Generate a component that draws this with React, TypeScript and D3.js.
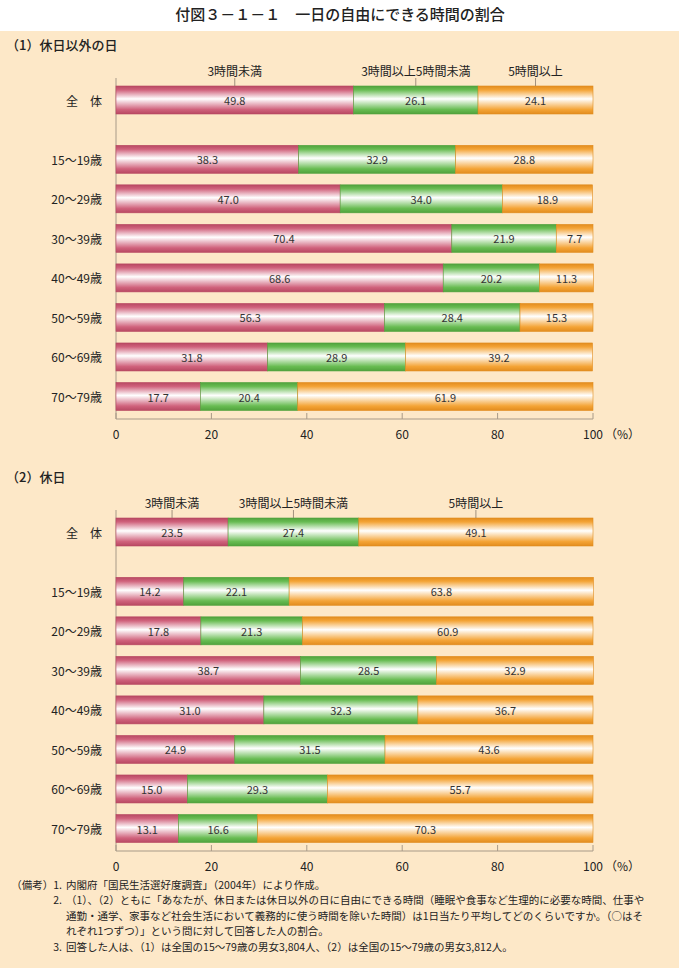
import React, { useEffect, useRef } from 'react'
import * as d3 from 'd3'

const W = 681
const H = 973

const categories = ['全　体', '15～19歳', '20～29歳', '30～39歳', '40～49歳', '50～59歳', '60～69歳', '70～79歳']
const seriesNames = ['3時間未満', '3時間以上5時間未満', '5時間以上']

// (1) 休日以外の日
const weekdayLess3 = [49.8, 38.3, 47.0, 70.4, 68.6, 56.3, 31.8, 17.7]
const weekday3to5 = [26.1, 32.9, 34.0, 21.9, 20.2, 28.4, 28.9, 20.4]
const weekdayOver5 = [24.1, 28.8, 18.9, 7.7, 11.3, 15.3, 39.2, 61.9]

// (2) 休日
const holidayLess3 = [23.5, 14.2, 17.8, 38.7, 31.0, 24.9, 15.0, 13.1]
const holiday3to5 = [27.4, 22.1, 21.3, 28.5, 32.3, 31.5, 29.3, 16.6]
const holidayOver5 = [49.1, 63.8, 60.9, 32.9, 36.7, 43.6, 55.7, 70.3]

const xTicks = [0, 20, 40, 60, 80, 100]

const notes = [
  { label: '（備考）1.', text: '内閣府「国民生活選好度調査」（2004年）により作成。' },
  { label: '2.', text: '（1）、（2）ともに「あなたが、休日または休日以外の日に自由にできる時間（睡眠や食事など生理的に必要な時間、仕事や' },
  { label: '', text: '通勤・通学、家事など社会生活において義務的に使う時間を除いた時間）は1日当たり平均してどのくらいですか。（○はそ' },
  { label: '', text: 'れぞれ1つずつ）」という問に対して回答した人の割合。' },
  { label: '3.', text: '回答した人は、（1）は全国の15～79歳の男女3,804人、（2）は全国の15～79歳の男女3,812人。' },
]

const colors = [
  { id: 'gPink', base: '#d0627c', dark: '#b84862' },
  { id: 'gGreen', base: '#68bc52', dark: '#50a23c' },
  { id: 'gOrange', base: '#f4a436', dark: '#e28c1e' },
]

const FONT = '"Noto Sans CJK JP", "Noto Sans", sans-serif'

const App: React.FC = () => {
  const svgRef = useRef<SVGSVGElement>(null)

  useEffect(() => {
    document.body.style.margin = '0'
    if (!svgRef.current) return
    const svg = d3.select(svgRef.current)
    svg.selectAll('*').remove()

    const defs = svg.append('defs')
    colors.forEach(c => {
      const lg = defs.append('linearGradient')
        .attr('id', c.id)
        .attr('x1', 0).attr('y1', 0).attr('x2', 0).attr('y2', 1)
      lg.append('stop').attr('offset', '0%').attr('stop-color', c.dark)
      lg.append('stop').attr('offset', '14%').attr('stop-color', c.base)
      lg.append('stop').attr('offset', '46%').attr('stop-color', '#ffffff')
      lg.append('stop').attr('offset', '84%').attr('stop-color', c.base)
      lg.append('stop').attr('offset', '100%').attr('stop-color', c.dark)
    })

    svg.append('rect')
      .attr('x', 0).attr('y', 31).attr('width', 679).attr('height', 937)
      .attr('fill', '#fde8c8')

    svg.append('text')
      .attr('x', 340).attr('y', 13)
      .attr('text-anchor', 'middle').attr('dominant-baseline', 'central')
      .style('font-family', FONT).style('font-size', '15px').style('font-weight', 500)
      .attr('fill', '#222')
      .text('付図３－１－１　一日の自由にできる時間の割合')

    const x = d3.scaleLinear().domain([0, 100]).range([116, 593])

    const drawPanel = (
      title: string,
      offset: number,
      data: number[][]
    ) => {
      const g = svg.append('g').attr('transform', `translate(0,${offset})`)
      // slot index: gap of 1.5 after 全体
      const slot = categories.map((_, i) => (i === 0 ? 0 : i + 0.5))
      const y = d3.scaleLinear().domain([0, 7.5]).range([100, 396.5])
      const barH = 28

      g.append('text')
        .attr('x', 6).attr('y', 44)
        .attr('dominant-baseline', 'central')
        .style('font-family', FONT).style('font-size', '13px').style('font-weight', 500)
        .attr('fill', '#222')
        .text(title)

      // axis
      const axisY = 419
      g.append('line')
        .attr('x1', x(0)).attr('x2', x(100)).attr('y1', axisY).attr('y2', axisY)
        .attr('stroke', '#a89a88').attr('stroke-width', 1)
      g.append('line')
        .attr('x1', x(0)).attr('x2', x(0)).attr('y1', 78).attr('y2', axisY)
        .attr('stroke', '#a89a88').attr('stroke-width', 1)
      xTicks.forEach(t => {
        g.append('line')
          .attr('x1', x(t)).attr('x2', x(t)).attr('y1', axisY - 6).attr('y2', axisY)
          .attr('stroke', '#a89a88').attr('stroke-width', 1)
        g.append('text')
          .attr('x', x(t)).attr('y', 433)
          .attr('text-anchor', 'middle').attr('dominant-baseline', 'central')
          .style('font-family', FONT).style('font-size', '12px')
          .attr('fill', '#222')
          .text(String(t))
      })
      g.append('text')
        .attr('x', x(100) + 12).attr('y', 433)
        .attr('dominant-baseline', 'central')
        .style('font-family', FONT).style('font-size', '12px')
        .attr('fill', '#222')
        .text('（%）')

      categories.forEach((cat, i) => {
        const cy = y(slot[i])
        g.append('text')
          .attr('x', 102).attr('y', cy)
          .attr('text-anchor', 'end').attr('dominant-baseline', 'central')
          .style('font-family', FONT).style('font-size', '12px')
          .attr('fill', '#222')
          .text(cat)

        let acc = 0
        data.forEach((series, s) => {
          const v = series[i]
          const x0 = x(acc)
          const x1 = x(acc + v)
          g.append('rect')
            .attr('x', x0).attr('y', cy - barH / 2)
            .attr('width', x1 - x0).attr('height', barH)
            .attr('fill', `url(#${colors[s].id})`)
            .attr('stroke', colors[s].dark).attr('stroke-width', 0.6)
          g.append('text')
            .attr('x', (x0 + x1) / 2).attr('y', cy)
            .attr('text-anchor', 'middle').attr('dominant-baseline', 'central')
            .style('font-family', FONT).style('font-size', '11px')
            .attr('fill', '#333')
            .text(v.toFixed(1))

          if (i === 0) {
            const mx = (x0 + x1) / 2
            g.append('line')
              .attr('x1', mx).attr('x2', mx).attr('y1', 78).attr('y2', cy - barH / 2)
              .attr('stroke', '#8a7a6a').attr('stroke-width', 0.8)
            g.append('text')
              .attr('x', mx).attr('y', 70)
              .attr('text-anchor', 'middle').attr('dominant-baseline', 'central')
              .style('font-family', FONT).style('font-size', '12px')
              .attr('fill', '#222')
              .text(seriesNames[s])
          }
          acc += v
        })
      })
    }

    drawPanel('（1）休日以外の日', 0, [weekdayLess3, weekday3to5, weekdayOver5])
    drawPanel('（2）休日', 432, [holidayLess3, holiday3to5, holidayOver5])

    const lineY = d3.scaleLinear().domain([0, 4]).range([884, 946])
    notes.forEach((n, i) => {
      if (n.label) {
        svg.append('text')
          .attr('x', 62).attr('y', lineY(i))
          .attr('text-anchor', 'end').attr('dominant-baseline', 'central')
          .style('font-family', FONT).style('font-size', '10.5px')
          .attr('fill', '#222')
          .text(n.label)
      }
      svg.append('text')
        .attr('x', 66).attr('y', lineY(i))
        .attr('dominant-baseline', 'central')
        .style('font-family', FONT).style('font-size', '10.5px')
        .attr('fill', '#222')
        .text(n.text)
    })
  }, [])

  return (
    <div style={{ width: W, height: H }}>
      <svg ref={svgRef} width={W} height={H} style={{ display: 'block' }} />
    </div>
  )
}

export default App
